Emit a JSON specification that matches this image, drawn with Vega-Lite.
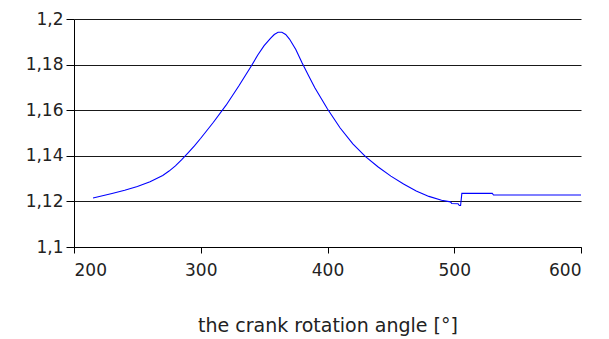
{
  "$schema": "https://vega.github.io/schema/vega-lite/v6.json",
  "width": 507,
  "height": 228,
  "autosize": "none",
  "padding": {"left": 74, "top": 19, "right": 28, "bottom": 92},
  "background": "white",
  "config": {"view": {"stroke": null}, "font": "DejaVu Sans"},
  "data": {"values": [
    {"angle": 215, "value": 1.1215},
    {"angle": 230, "value": 1.1235},
    {"angle": 240, "value": 1.1249},
    {"angle": 250, "value": 1.1265},
    {"angle": 260, "value": 1.1286},
    {"angle": 270, "value": 1.1314},
    {"angle": 275, "value": 1.1333},
    {"angle": 280, "value": 1.1356},
    {"angle": 285, "value": 1.1383},
    {"angle": 290, "value": 1.1413},
    {"angle": 295, "value": 1.1444},
    {"angle": 300, "value": 1.1477},
    {"angle": 310, "value": 1.1547},
    {"angle": 320, "value": 1.1622},
    {"angle": 330, "value": 1.1706},
    {"angle": 340, "value": 1.1795},
    {"angle": 345, "value": 1.1842},
    {"angle": 350, "value": 1.1883},
    {"angle": 355, "value": 1.1915},
    {"angle": 358, "value": 1.1932},
    {"angle": 361, "value": 1.1942},
    {"angle": 364, "value": 1.1942},
    {"angle": 367, "value": 1.1932},
    {"angle": 370, "value": 1.1912},
    {"angle": 375, "value": 1.1866},
    {"angle": 380, "value": 1.1807},
    {"angle": 385, "value": 1.1752},
    {"angle": 390, "value": 1.1698},
    {"angle": 400, "value": 1.1605},
    {"angle": 410, "value": 1.1522},
    {"angle": 420, "value": 1.1452},
    {"angle": 430, "value": 1.1396},
    {"angle": 440, "value": 1.1351},
    {"angle": 450, "value": 1.1311},
    {"angle": 460, "value": 1.1276},
    {"angle": 470, "value": 1.1246},
    {"angle": 480, "value": 1.1222},
    {"angle": 490, "value": 1.1205},
    {"angle": 497, "value": 1.1198},
    {"angle": 498, "value": 1.1191},
    {"angle": 503, "value": 1.119},
    {"angle": 504, "value": 1.1182},
    {"angle": 505, "value": 1.1182},
    {"angle": 506, "value": 1.1235},
    {"angle": 530, "value": 1.1235},
    {"angle": 531, "value": 1.1228},
    {"angle": 600, "value": 1.1228}
  ]},
  "mark": {"type": "line", "color": "#0000FF", "strokeWidth": 1.1},
  "encoding": {
    "x": {
      "field": "angle", "type": "quantitative",
      "scale": {"domain": [200, 600], "nice": false, "zero": false},
      "axis": {
        "values": [200, 300, 400, 500, 600],
        "grid": false,
        "domainColor": "#000000",
        "tickColor": "#000000",
        "tickSize": 6,
        "labelFontSize": 17,
        "labelColor": "#222222",
        "labelPadding": 9,
        "title": "the crank rotation angle [°]",
        "titleFontSize": 19,
        "titleFontWeight": "normal",
        "titleColor": "#222222",
        "titlePadding": 38
      }
    },
    "y": {
      "field": "value", "type": "quantitative",
      "scale": {"domain": [1.1, 1.2], "nice": false, "zero": false},
      "axis": {
        "values": [1.1, 1.12, 1.14, 1.16, 1.18, 1.2],
        "grid": true,
        "gridColor": "#000000",
        "gridOpacity": 0.9,
        "domainColor": "#000000",
        "tickColor": "#000000",
        "tickSize": 8,
        "labelFontSize": 17,
        "labelColor": "#222222",
        "labelPadding": 3,
        "labelExpr": "replace(format(datum.value, '.2~f'), '.', ',')",
        "title": null
      }
    }
  }
}
